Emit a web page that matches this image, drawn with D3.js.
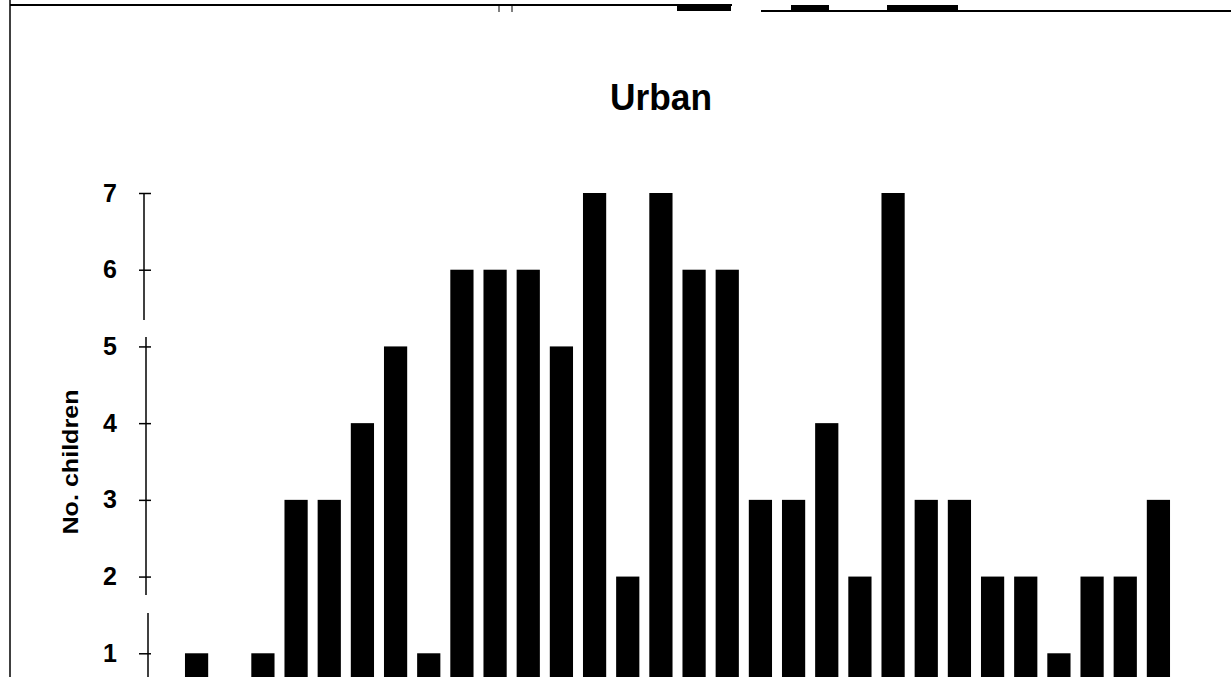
<!DOCTYPE html>
<html>
<head>
<meta charset="utf-8">
<script src="https://cdn.jsdelivr.net/npm/d3@7"></script>
<style>
  html, body { margin: 0; padding: 0; background: #fff; overflow: hidden; }
  svg { display: block; }
</style>
</head>
<body>
<svg id="chart" width="1231" height="677"></svg>
<script>
// ---- data ----
const title = "Urban";
const yLabel = "No. children";
const categories = d3.range(1, 31).map(String);
const counts = [1, 0, 1, 3, 3, 4, 5, 1, 6, 6, 6, 5, 7, 2, 7, 6, 6, 3, 3, 4, 2, 7, 3, 3, 2, 2, 1, 2, 2, 3];
const yTicks = [1, 2, 3, 4, 5, 6, 7];

// ---- layout ----
const svg = d3.select("#chart");
const W = 1231, H = 677;
const FONT = "Liberation Sans, Arial, sans-serif";

const x = d3.scaleBand()
  .domain(categories)
  .range([180, 1175])
  .paddingInner(0.3)
  .paddingOuter(0.15);

const y = d3.scaleLinear()
  .domain([0, 7])
  .range([730, 193]);

// frame (scanned page border)
svg.append("line").attr("x1", 10).attr("x2", 10).attr("y1", 0).attr("y2", H)
  .attr("stroke", "#000").attr("stroke-width", 1.5);
svg.append("line").attr("x1", 10).attr("x2", 732).attr("y1", 5).attr("y2", 5)
  .attr("stroke", "#000").attr("stroke-width", 2);
svg.append("line").attr("x1", 761).attr("x2", W).attr("y1", 11).attr("y2", 11)
  .attr("stroke", "#000").attr("stroke-width", 2);
[[677, 731, 6], [791, 829, 5], [887, 958, 5]].forEach(([a, b, yy]) => {
  svg.append("rect").attr("x", a).attr("y", yy).attr("width", b - a).attr("height", 5).attr("fill", "#000");
});
[499, 512].forEach(xx => svg.append("line").attr("x1", xx).attr("x2", xx).attr("y1", 5).attr("y2", 12)
  .attr("stroke", "#000").attr("stroke-width", 1));

// title
svg.append("text")
  .attr("x", 661).attr("y", 110)
  .attr("text-anchor", "middle")
  .attr("font-family", FONT)
  .attr("font-weight", "bold")
  .attr("font-size", 36)
  .attr("textLength", 102)
  .attr("lengthAdjust", "spacingAndGlyphs")
  .text(title);

// bars
svg.append("g").selectAll("rect")
  .data(counts)
  .join("rect")
  .attr("x", (d, i) => x(categories[i]))
  .attr("width", x.bandwidth())
  .attr("y", d => y(d))
  .attr("height", d => y(0) - y(d))
  .attr("fill", "#000");

// y axis
const yAxis = d3.axisLeft(y).tickValues(yTicks).tickSize(6).tickPadding(23).tickFormat(d3.format("d"));
const gy = svg.append("g").attr("transform", "translate(146,0)").call(yAxis);
gy.select(".domain").remove();
// scanned axis line in three slightly offset pieces
[[y(7), 320, -2], [337, 595, 0], [613, H, 2]].forEach(([a, b, dx]) => {
  gy.append("line").attr("x1", dx).attr("x2", dx).attr("y1", a).attr("y2", b)
    .attr("stroke", "#000").attr("stroke-width", 1.5);
});
gy.selectAll(".tick line").attr("x1", -7).attr("x2", 5).attr("stroke-width", 1.5);
gy.selectAll(".tick text")
  .attr("font-family", FONT)
  .attr("font-weight", "bold")
  .attr("font-size", 25)
  .attr("fill", "#000");

// y label
svg.append("text")
  .attr("transform", "translate(78,462) rotate(-90)")
  .attr("text-anchor", "middle")
  .attr("font-family", FONT)
  .attr("font-weight", "bold")
  .attr("font-size", 22)
  .attr("textLength", 145)
  .attr("lengthAdjust", "spacingAndGlyphs")
  .text(yLabel);
</script>
</body>
</html>
